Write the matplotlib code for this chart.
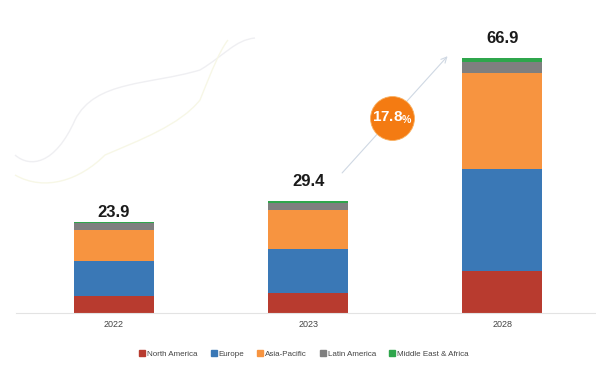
import matplotlib
matplotlib.use("Agg")
import matplotlib.pyplot as plt
from matplotlib.path import Path
from matplotlib.patches import PathPatch
from matplotlib.lines import Line2D

plt.rcParams['font.family'] = ['Liberation Sans', 'DejaVu Sans']

years = ['2022', '2023', '2028']
totals = [23.9, 29.4, 66.9]
regions = ['North America', 'Europe', 'Asia-Pacific', 'Latin America', 'Middle East & Africa']
north_america = [4.4, 5.2, 10.9]
europe = [9.2, 11.6, 27.0]
asia_pacific = [8.1, 10.2, 25.1]
latin_america = [1.8, 1.8, 2.8]
middle_east_africa = [0.4, 0.6, 1.1]
cagr = '17.8'

colors = ['#b83b2f', '#3a78b6', '#f79440', '#7f7f7f', '#2fa64c']
series = [north_america, europe, asia_pacific, latin_america, middle_east_africa]
label_pad = [2.4, 5.0, 5.2]

fig = plt.figure(figsize=(5.96, 3.77), dpi=100)
ax = fig.add_axes([16 / 596, 64 / 377, 580 / 596, 313 / 377])

# faint decorative swooshes in the upper left
def swoosh(pts, color):
    codes = [Path.MOVETO] + [Path.CURVE4] * (len(pts) - 1)
    path = Path([(x / 596, 1 - y / 377) for x, y in pts], codes)
    fig.patches.append(PathPatch(path, transform=fig.transFigure, fill=False,
                                 edgecolor=color, lw=1.0, zorder=0))

swoosh([(15, 155), (30, 168), (55, 165), (75, 120), (95, 80), (150, 85), (200, 70),
        (225, 55), (235, 40), (255, 38)], '#efeff2')
swoosh([(15, 175), (45, 192), (80, 180), (105, 155), (140, 140), (180, 125), (200, 100),
        (212, 70), (220, 50), (228, 40)], '#f7f7e6')

x = range(len(years))
bottom = [0] * len(years)
for vals, col, name in zip(series, colors, regions):
    ax.bar(x, vals, width=0.412, bottom=bottom, color=col, label=name, zorder=2)
    bottom = [b + v for b, v in zip(bottom, vals)]

for xi, t, pad in zip(x, totals, label_pad):
    ax.text(xi, t + pad, f'{t}', ha='center', va='center', fontsize=12,
            fontweight='bold', color='#1a1a1a')

ax.set_xlim(-0.505, 2.482)
ax.set_ylim(0, 82.1)
ax.set_xticks(list(x))
ax.set_xticklabels(years, fontsize=6.5, color='#444444')
ax.tick_params(axis='x', length=0, pad=5)
ax.set_yticks([])
for s in ['top', 'right', 'left']:
    ax.spines[s].set_visible(False)
ax.spines['bottom'].set_color('#e3e3e3')
ax.spines['bottom'].set_linewidth(0.8)

# growth arrow and CAGR bubble
ax.annotate('', xy=(1.727, 67.9), xytext=(1.165, 36.2),
            arrowprops=dict(arrowstyle='->', color='#cfd8e3', lw=0.8), zorder=1)
ax.scatter([1.433], [51.2], s=1000, color='#f47b12', edgecolors='#f9b060',
           linewidths=0.6, zorder=3)
ax.text(1.433, 51.2, cagr + r'$\mathregular{_{\%}}$', ha='center', va='center',
        fontsize=11, fontweight='bold', color='white', zorder=4)

handles = [Line2D([], [], marker='s', ls='', color=c, markersize=4) for c in colors]
fig.legend(handles, regions, loc='center', bbox_to_anchor=(0.51, 1 - 354 / 377),
           ncol=5, frameon=False, fontsize=5.8, handletextpad=0.2, handlelength=0.8,
           columnspacing=1.6, labelcolor='#444444')

fig.savefig('out.png', dpi=100)
